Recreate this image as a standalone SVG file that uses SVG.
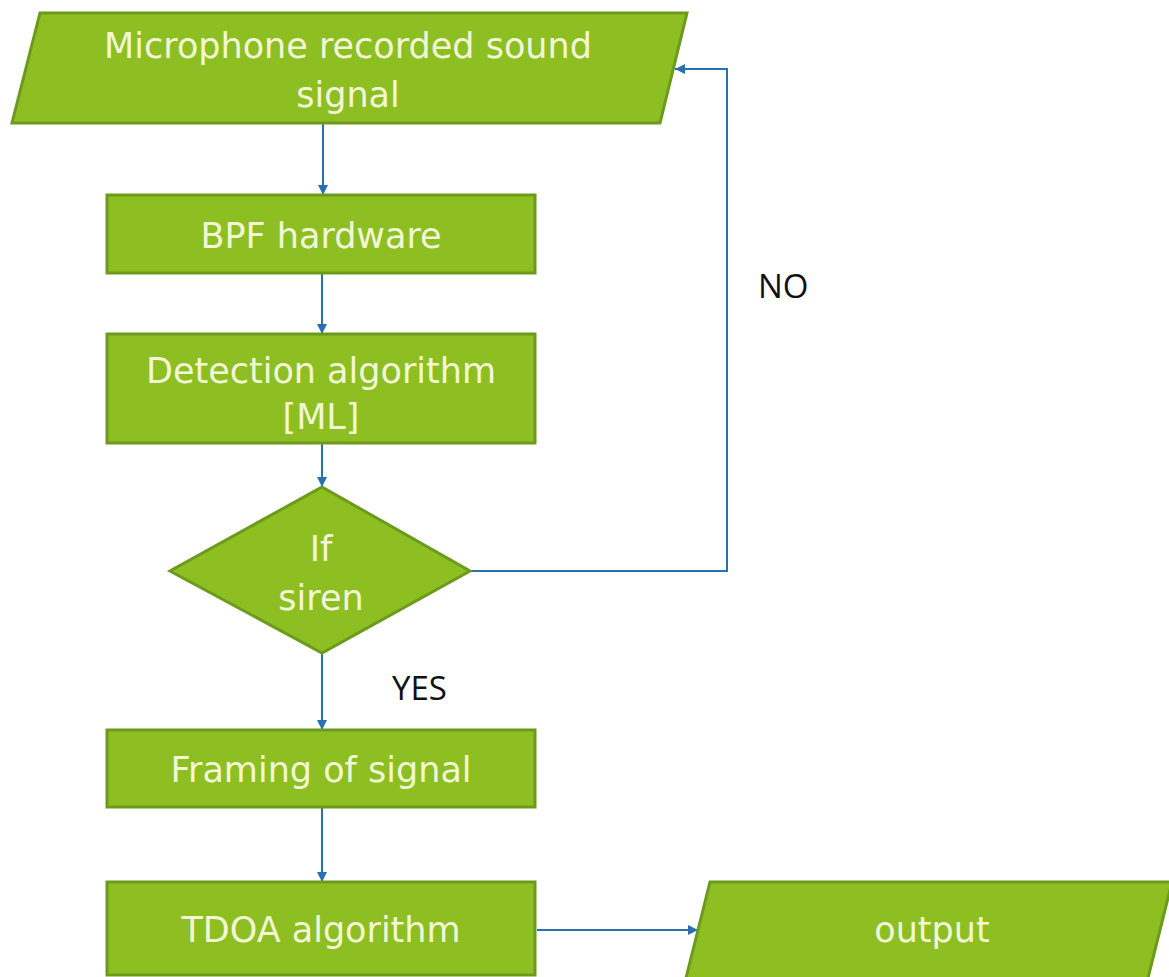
<svg xmlns="http://www.w3.org/2000/svg" width="1169" height="977" viewBox="0 0 1169 977">
<defs>
<marker id="arr" viewBox="0 0 10 10" refX="10" refY="5" markerWidth="10" markerHeight="10" markerUnits="userSpaceOnUse" orient="auto">
<path d="M0,0 L10,5 L0,10 z" fill="#2a70b0"/>
</marker>
<style>
.shape{fill:#8dbf23;stroke:#6c9a1d;stroke-width:3;stroke-linejoin:miter}
.t{font-family:"DejaVu Sans",sans-serif;font-size:35px;fill:#f3f7d6;text-anchor:middle}
.lbl{font-family:"Open Sans",sans-serif;font-size:33px;fill:#111}
.c{fill:none;stroke:#2a70b0;stroke-width:2}
</style>
</defs>
<rect width="1169" height="977" fill="#ffffff"/>
<g id="connectors">
<line class="c" x1="323" y1="123" x2="323" y2="195" marker-end="url(#arr)"/>
<line class="c" x1="322" y1="273" x2="322" y2="334" marker-end="url(#arr)"/>
<line class="c" x1="322" y1="443" x2="322" y2="487" marker-end="url(#arr)"/>
<line class="c" x1="322" y1="653" x2="322" y2="730" marker-end="url(#arr)"/>
<line class="c" x1="322" y1="807" x2="322" y2="882" marker-end="url(#arr)"/>
<polyline class="c" points="470,571 727,571 727,69 675,69" marker-end="url(#arr)"/>
<line class="c" x1="537" y1="930" x2="698" y2="930" marker-end="url(#arr)"/>
</g>
<g id="input">
<polygon class="shape" points="40,13 687,13 660,123 12,123"/>
<text class="t" x="348" y="58">Microphone recorded sound</text>
<text class="t" x="348" y="107">signal</text>
</g>
<g id="bpf">
<rect class="shape" x="107" y="195" width="428" height="78"/>
<text class="t" x="321" y="248">BPF hardware</text>
</g>
<g id="detection">
<rect class="shape" x="107" y="334" width="428" height="109"/>
<text class="t" x="321" y="383">Detection algorithm</text>
<text class="t" x="321" y="429">[ML]</text>
</g>
<g id="decision">
<polygon class="shape" points="322,487 470,571 322,653 170,571"/>
<text class="t" x="321" y="561">If</text>
<text class="t" x="321" y="610">siren</text>
</g>
<g id="framing">
<rect class="shape" x="107" y="730" width="428" height="77"/>
<text class="t" x="321" y="782">Framing of signal</text>
</g>
<g id="tdoa">
<rect class="shape" x="107" y="882" width="428" height="93"/>
<text class="t" x="321" y="942">TDOA algorithm</text>
</g>
<g id="output">
<polygon class="shape" points="710,882 1172,882 1145,990 683,990"/>
<text class="t" x="932" y="942">output</text>
</g>
<g id="labels">
<text class="lbl" x="758" y="298">NO</text>
<text class="lbl" x="392" y="700">YES</text>
</g>
</svg>
